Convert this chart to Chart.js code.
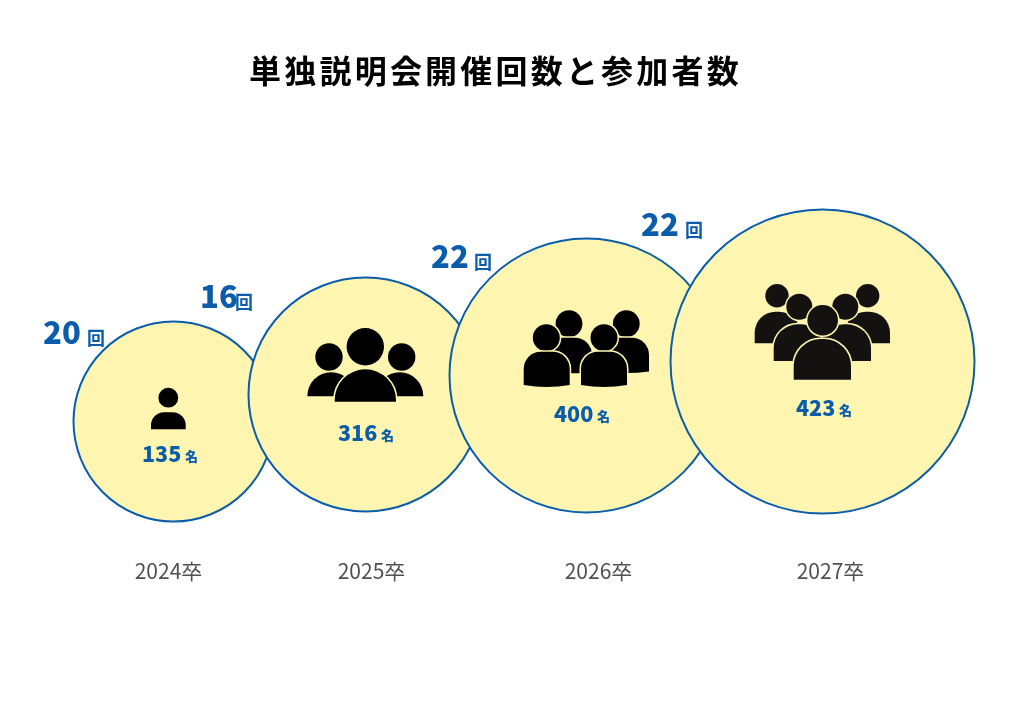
<!DOCTYPE html>
<html lang="ja">
<head>
<meta charset="utf-8">
<title>単独説明会開催回数と参加者数</title>
<script src="https://cdn.jsdelivr.net/npm/chart.js@4"></script>
<style>
  html, body { margin: 0; padding: 0; background: #fff; }
  canvas { display: block; }
</style>
</head>
<body>
<canvas id="chart" width="1024" height="724"></canvas>
<script>
const categories = ["2024卒", "2025卒", "2026卒", "2027卒"];
const sessions = [20, 16, 22, 22];
const participants = [135, 316, 400, 423];
const sessionUnit = "回";
const participantUnit = "名";

// bubble series, in axis units
const bubbleX = [173.5, 365.5, 586.5, 822.5];
const bubbleY = [421.5, 394.5, 375.5, 361.5];
const bubbleR = [100, 117, 137, 152];

// axis and label placement
const tickPositions = [168.5, 371.5, 598.5, 830.5];
const sessionNumX = [43, 200, 431, 641];
const sessionUnitX = [87, 235, 474, 685];
const sessionLabelY = [332, 296, 256, 224];
const countNumX = [142, 338, 554, 796];
const countUnitX = [185, 381, 597, 839];
const countLabelY = [454, 433, 414, 408];

const FONT = '"Noto Sans CJK JP"';
const BLUE = "#0b5dab";
const CREAM = "#fdf5b0";

function head(ctx, x, y, r, color) {
  ctx.beginPath();
  ctx.arc(x, y, r, 0, Math.PI * 2);
  ctx.stroke();
  ctx.fillStyle = color;
  ctx.fill();
}

function body(ctx, x0, x1, top, bottom, color, opts = {}) {
  const rx = opts.corner || (x1 - x0) / 2;
  const ry = opts.corner || Math.min(rx, bottom - top);
  ctx.beginPath();
  ctx.moveTo(x0, bottom);
  ctx.lineTo(x0, top + ry);
  ctx.ellipse(x0 + rx, top + ry, rx, ry, 0, Math.PI, Math.PI * 1.5);
  ctx.lineTo(x1 - rx, top);
  ctx.ellipse(x1 - rx, top + ry, rx, ry, 0, Math.PI * 1.5, Math.PI * 2);
  ctx.lineTo(x1, bottom);
  if (opts.sag) ctx.quadraticCurveTo((x0 + x1) / 2, bottom + opts.sag, x0, bottom);
  ctx.closePath();
  ctx.stroke();
  ctx.fillStyle = color;
  ctx.fill();
}

const peopleIcons = [
  (ctx) => {
    head(ctx, 168.3, 397.7, 9.9, "#000");
    ctx.beginPath();
    ctx.roundRect(151, 412.3, 34.7, 17, [13, 13, 0, 0]);
    ctx.fillStyle = "#000";
    ctx.fill();
  },
  (ctx) => {
    head(ctx, 365.3, 346.7, 18.7, "#000");
    head(ctx, 329, 357, 13.7, "#000");
    head(ctx, 401.7, 357, 13.7, "#000");
    body(ctx, 307.3, 355, 372.3, 396.3, "#000");
    body(ctx, 376, 423.3, 372.3, 396.3, "#000");
    body(ctx, 334.7, 396, 369.3, 401.7, "#000");
  },
  (ctx) => {
    const boxy = { corner: 17 };
    head(ctx, 569, 323.7, 13.4, "#000");
    body(ctx, 546, 592, 337.7, 373.3, "#000", boxy);
    head(ctx, 626.3, 323.7, 13.4, "#000");
    body(ctx, 603, 649, 337.7, 371.5, "#000", { corner: 17, sag: 3 });
    head(ctx, 546.3, 337.7, 13.5, "#000");
    body(ctx, 523.7, 569.7, 351.7, 385, "#000", { corner: 17, sag: 4 });
    head(ctx, 604, 337.7, 13.5, "#000");
    body(ctx, 581, 627, 351.7, 385, "#000", { corner: 17, sag: 4 });
  },
  (ctx) => {
    const c = "#141210";
    const dome = { corner: 21 };
    head(ctx, 777, 295.7, 11.7, c);
    body(ctx, 754.7, 800, 311.7, 343.3, c, dome);
    head(ctx, 867.7, 295.7, 11.7, c);
    body(ctx, 845, 890, 311.7, 343.3, c, dome);
    head(ctx, 799.3, 306.7, 13, c);
    head(ctx, 845.3, 306.7, 13, c);
    body(ctx, 773.7, 825, 324.3, 361, c, { corner: 24 });
    body(ctx, 820, 871, 324.3, 361, c, { corner: 24 });
    head(ctx, 822.7, 320.3, 15.3, c);
    body(ctx, 793.7, 851, 339, 379.7, c, { corner: 27 });
  }
];

const bubbleExtras = {
  id: "bubbleExtras",
  beforeDraw(chart) {
    chart.ctx.letterSpacing = "3.2px";
  },
  beforeDatasetsDraw(chart) {
    chart.ctx.letterSpacing = "0px";
  },
  afterLayout(chart) {
    chart.titleBlock.right = 991;
  },
  afterDatasetsDraw(chart) {
    const { ctx, scales } = chart;
    const px = (v) => scales.x.getPixelForValue(v);
    const py = (v) => scales.y.getPixelForValue(v);
    ctx.save();
    ctx.lineWidth = 3;
    ctx.strokeStyle = CREAM;
    peopleIcons.forEach((draw) => draw(ctx));

    ctx.fillStyle = BLUE;
    ctx.textAlign = "left";
    ctx.textBaseline = "middle";
    categories.forEach((_, i) => {
      ctx.font = `900 31px ${FONT}`;
      ctx.fillText(sessions[i], px(sessionNumX[i]), py(sessionLabelY[i]));
      ctx.font = `bold 18px ${FONT}`;
      ctx.fillText(sessionUnit, px(sessionUnitX[i]), py(sessionLabelY[i] + 6));
      ctx.font = `900 21.5px ${FONT}`;
      ctx.fillText(participants[i], px(countNumX[i]), py(countLabelY[i]));
      ctx.font = `900 13px ${FONT}`;
      ctx.fillText(participantUnit, px(countUnitX[i]), py(countLabelY[i] + 2));
    });
    ctx.restore();
  }
};

new Chart(document.getElementById("chart"), {
  type: "bubble",
  data: {
    datasets: [{
      data: categories.map((_, i) => ({ x: bubbleX[i], y: bubbleY[i], r: bubbleR[i] })),
      backgroundColor: CREAM,
      borderColor: BLUE,
      borderWidth: 2
    }]
  },
  options: {
    responsive: false,
    animation: false,
    events: [],
    layout: { padding: 0, autoPadding: false },
    plugins: {
      legend: { display: false },
      tooltip: { enabled: false },
      title: {
        display: true,
        text: "単独説明会開催回数と参加者数",
        color: "#000",
        font: { family: FONT, size: 32, weight: "bold", lineHeight: 1.2 },
        padding: { top: 52, bottom: 69.6 }
      }
    },
    scales: {
      x: {
        type: "linear",
        min: 0,
        max: 1024,
        grid: { display: false },
        border: { display: false },
        afterBuildTicks(scale) {
          scale.ticks = tickPositions.map((value) => ({ value }));
        },
        afterFit(scale) {
          scale.height = 179;
        },
        ticks: {
          z: 1,
          padding: 5,
          color: "#505050",
          autoSkip: false,
          maxRotation: 0,
          font: { family: FONT, size: 21 },
          callback: (value, i) => categories[i]
        }
      },
      y: {
        type: "linear",
        display: false,
        reverse: true,
        min: 160,
        max: 545
      }
    }
  },
  plugins: [bubbleExtras]
});
</script>
</body>
</html>
